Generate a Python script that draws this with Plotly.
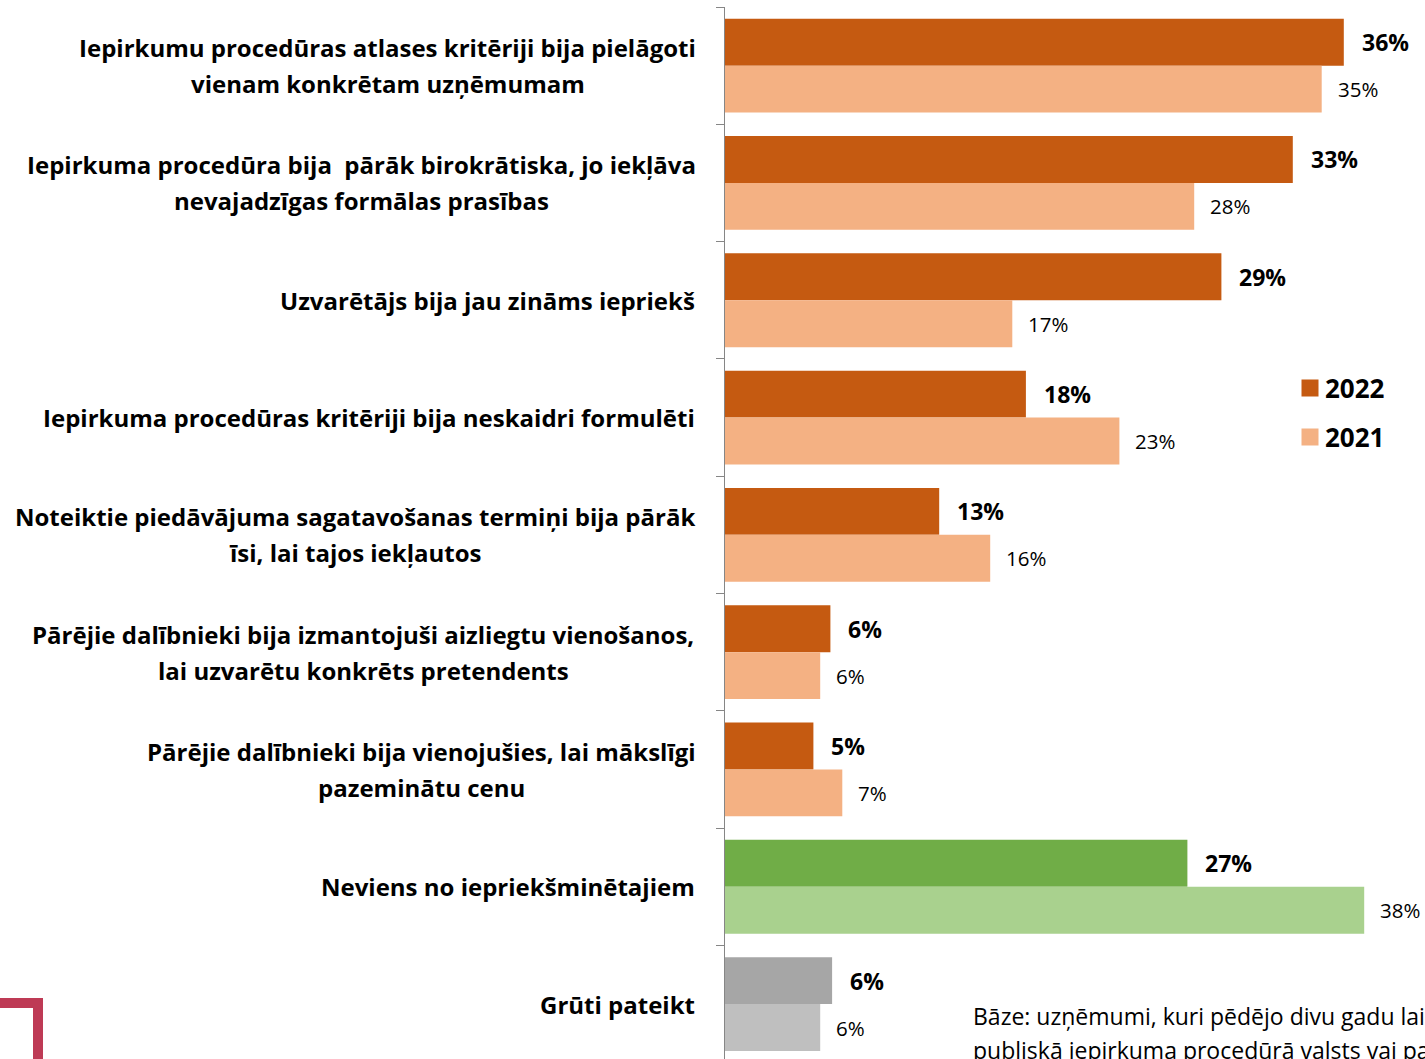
import plotly.graph_objects as go

categories = [
    ["Iepirkumu procedūras atlases kritēriji bija pielāgoti", "vienam konkrētam uzņēmumam"],
    ["Iepirkuma procedūra bija  pārāk birokrātiska, jo iekļāva", "nevajadzīgas formālas prasības"],
    ["Uzvarētājs bija jau zināms iepriekš"],
    ["Iepirkuma procedūras kritēriji bija neskaidri formulēti"],
    ["Noteiktie piedāvājuma sagatavošanas termiņi bija pārāk", "īsi, lai tajos iekļautos"],
    ["Pārējie dalībnieki bija izmantojuši aizliegtu vienošanos,", "lai uzvarētu konkrēts pretendents"],
    ["Pārējie dalībnieki bija vienojušies, lai mākslīgi", "pazeminātu cenu"],
    ["Neviens no iepriekšminētajiem"],
    ["Grūti pateikt"],
]
values_2022 = [36.4, 33.4, 29.2, 17.7, 12.6, 6.2, 5.2, 27.2, 6.3]
values_2021 = [35.1, 27.6, 16.9, 23.2, 15.6, 5.6, 6.9, 37.6, 5.6]
series_names = ["2022", "2021"]
footnote = ["Bāze: uzņēmumi, kuri pēdējo divu gadu laikā",
            "publiskā iepirkuma procedūrā valsts vai pašvaldību"]

colors_2022 = ["#C55A11"] * 7 + ["#70AD47", "#A6A6A6"]
colors_2021 = ["#F4B183"] * 7 + ["#A9D18E", "#BFBFBF"]

FONT = "Open Sans"
FIG_W, FIG_H = 1425, 1059
CAT_PX = 117.3            # pixel height of one category band
PLOT_L, PLOT_W = 725, 700  # page pixels of plot area
PLOT_T = 7
PLOT_H = FIG_H - PLOT_T


def px_x(p):
    return (p - PLOT_L) / PLOT_W


def px_y(p):
    return (PLOT_T + PLOT_H - p) / PLOT_H


# centres of two-line label blocks (page px)
label_centres = {0: 387.5, 1: 361, 4: 355, 5: 363, 6: 421}
LABEL_RIGHT = 697
LINE_HALF = 18

ypos = list(range(len(categories)))

fig = go.Figure()
fig.add_trace(go.Bar(y=ypos, x=values_2022, orientation="h", name=series_names[0],
                     marker=dict(color=colors_2022, line=dict(width=0)), showlegend=False))
fig.add_trace(go.Bar(y=ypos, x=values_2021, orientation="h", name=series_names[1],
                     marker=dict(color=colors_2021, line=dict(width=0)), showlegend=False))

annotations = []
cat_font = dict(family=FONT, size=24, color="#000000")
for i, lines in enumerate(categories):
    if len(lines) == 1:
        annotations.append(dict(x=px_x(LABEL_RIGHT), xref="paper", y=i, yref="y",
                                text=f"<b>{lines[0]}</b>", xanchor="right", yanchor="middle",
                                showarrow=False, font=cat_font))
    else:
        for k, ln in enumerate(lines):
            annotations.append(dict(x=px_x(label_centres[i]), xref="paper", y=i, yref="y",
                                    text=f"<b>{ln}</b>", xanchor="center", yanchor="middle",
                                    yshift=LINE_HALF if k == 0 else -LINE_HALF,
                                    showarrow=False, font=cat_font))
    annotations.append(dict(x=values_2022[i], xref="x", y=i - 0.2, yref="y",
                            text=f"<b>{round(values_2022[i])}%</b>", xanchor="left", yanchor="middle",
                            xshift=16, showarrow=False,
                            font=dict(family=FONT, size=23, color="#000000")))
    annotations.append(dict(x=values_2021[i], xref="x", y=i + 0.2, yref="y",
                            text=f"{round(values_2021[i])}%", xanchor="left", yanchor="middle",
                            xshift=14, showarrow=False,
                            font=dict(family=FONT, size=20.5, color="#000000")))

# legend
for name, col, yc in [(series_names[0], colors_2022[0], 388), (series_names[1], colors_2021[0], 437)]:
    annotations.append(dict(x=px_x(1310), xref="paper", y=px_y(yc), yref="paper", text=" ",
                            width=16, height=16, bgcolor=col, borderpad=0, xanchor="center",
                            yanchor="middle", showarrow=False, font=dict(size=2)))
    annotations.append(dict(x=px_x(1323), xref="paper", y=px_y(yc), yref="paper",
                            text=f"<b>{name}</b>", xanchor="left", yanchor="middle",
                            showarrow=False, font=dict(family=FONT, size=26, color="#000000")))

# footnote
for ln, yc in zip(footnote, [1016, 1050]):
    annotations.append(dict(x=px_x(971), xref="paper", y=px_y(yc), yref="paper", text=ln,
                            xanchor="left", yanchor="middle", showarrow=False,
                            font=dict(family=FONT, size=23, color="#000000")))

shapes = [dict(type="rect", xref="paper", yref="paper",
               x0=px_x(-60), x1=px_x(38), y0=px_y(1130), y1=px_y(1003),
               line=dict(color="#BE3A55", width=10), fillcolor="rgba(0,0,0,0)")]

top = -0.5
fig.update_layout(
    width=FIG_W, height=FIG_H,
    margin=dict(l=PLOT_L, r=FIG_W - PLOT_L - PLOT_W, t=PLOT_T, b=0, pad=0),
    paper_bgcolor="white", plot_bgcolor="white",
    barmode="group", bargap=0.2, bargroupgap=0,
    annotations=annotations, shapes=shapes,
    xaxis=dict(range=[0, PLOT_W / 17], visible=False, showgrid=False, zeroline=False),
    yaxis=dict(range=[top + PLOT_H / CAT_PX, top], showgrid=False, zeroline=False,
               showline=True, linecolor="#868686", linewidth=1,
               tickvals=[i - 0.5 for i in range(len(categories) + 1)],
               ticks="outside", ticklen=8, tickcolor="#868686", showticklabels=False),
)

fig.write_html("out.html", config={"displayModeBar": False},
               post_script="document.body.style.margin='0';document.body.style.overflow='hidden';")
